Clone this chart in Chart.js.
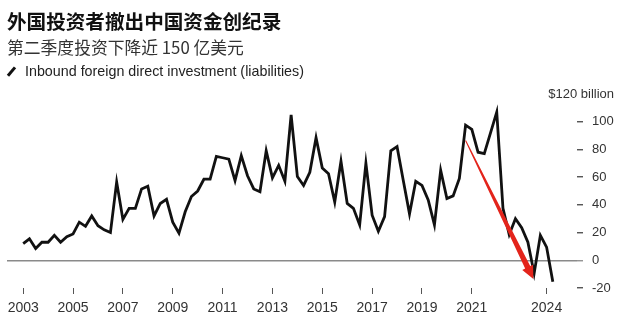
<!DOCTYPE html>
<html>
<head>
<meta charset="utf-8">
<script src="https://cdn.jsdelivr.net/npm/chart.js@4"></script>
<style>
  html, body { margin: 0; padding: 0; background: #fff; }
  #wrap { position: relative; width: 619px; height: 324px; overflow: hidden; }
  #chart { position: absolute; left: 0; top: 0; }
  .hd { position: absolute; left: 7px; white-space: nowrap; }
  #title { top: 11px; font: bold 19.6px/20px "Noto Sans CJK SC", sans-serif; color: #111; }
  #sub { top: 39px; font: 16.8px/17px "Noto Sans CJK SC", sans-serif; color: #333; }
  #legend { top: 64px; left: 25px; font: 14.3px/14px "Liberation Sans", Arial, sans-serif; color: #222; }
  #swatch { position: absolute; left: 9.5px; top: 65.5px; width: 2.8px; height: 11px; background: #111; transform: rotate(40deg); }
</style>
</head>
<body>
<div id="wrap">
  <canvas id="chart" width="619" height="324"></canvas>
  <div class="hd" id="title">外国投资者撤出中国资金创纪录</div>
  <div class="hd" id="sub">第二季度投资下降近 150 亿美元</div>
  <div id="swatch"></div>
  <div class="hd" id="legend">Inbound foreign direct investment (liabilities)</div>
</div>
<script>
// quarterly, 2003 Q1 .. 2024 Q2, $ billion
const startYear = 2003;
const fdi = [
    12, 15.5, 8.5, 13, 13, 18, 13, 17, 19, 27.5, 24.5, 32,
    25, 22, 20, 56.5, 29.5, 37.5, 37.5, 51.5, 53.5, 32, 41, 44,
    27.5, 19.5, 35, 46, 50, 58.5, 58.5, 75, 74, 73, 57.5, 75.5,
    61, 51.5, 49.5, 79, 59.5, 68.5, 57, 105, 60.5, 54, 63.5, 88.5,
    66.5, 62.5, 42, 71.5, 41, 37.5, 25.5, 70, 32.5, 21, 31.5, 79,
    82, 57.5, 33.5, 57, 54, 43.5, 25.5, 65, 44.5, 46.5, 59, 97.5,
    94.5, 78, 77, 92, 107, 37.5, 18.5, 30, 23.5, 13, -9.5, 18,
    9.5, -15.5
];
const tickYears = [2003, 2005, 2007, 2009, 2011, 2013, 2015, 2017, 2019, 2021, 2024];
const yTicks = [-20, 0, 20, 40, 60, 80, 100, 120];

const points = fdi.map(function(v, i) {
    return { x: startYear + i / 4, y: v };
});

// red annotation arrow, drawn in data space
const redArrow = {
    id: "redArrow",
    afterDatasetsDraw(chart) {
        const ctx = chart.ctx;
        const x = chart.scales.x, y = chart.scales.y;
        const x0 = x.getPixelForValue(2020.75), y0 = y.getPixelForValue(86.5);
        const x1 = x.getPixelForValue(2023.47), y1 = y.getPixelForValue(-13.5);
        const len = Math.hypot(x1 - x0, y1 - y0);
        const head = 13;
        ctx.save();
        ctx.translate(x0, y0);
        ctx.rotate(Math.atan2(y1 - y0, x1 - x0));
        ctx.fillStyle = "#e3241b";
        ctx.beginPath();
        ctx.moveTo(0, -0.5);
        ctx.lineTo(len - head, -2.8);
        ctx.lineTo(len - head, -6);
        ctx.lineTo(len, 0);
        ctx.lineTo(len - head, 6);
        ctx.lineTo(len - head, 2.8);
        ctx.lineTo(0, 0.5);
        ctx.closePath();
        ctx.fill();
        ctx.restore();
    }
};

const unitLabel = {
    id: "unitLabel",
    afterDraw(chart) {
        const ctx = chart.ctx;
        ctx.save();
        ctx.font = '13px "Liberation Sans", Arial, sans-serif';
        ctx.fillStyle = "#333";
        ctx.textAlign = "right";
        ctx.textBaseline = "middle";
        ctx.fillText("$120 billion", 614, chart.scales.y.getPixelForValue(120));
        ctx.restore();
    }
};

new Chart(document.getElementById("chart"), {
    type: "line",
    data: {
        datasets: [{
            label: "Inbound foreign direct investment (liabilities)",
            data: points,
            borderColor: "#111",
            borderWidth: 2.8,
            pointRadius: 0,
            tension: 0,
            fill: false
        }]
    },
    options: {
        responsive: false,
        animation: false,
        layout: { padding: { top: 94, left: 7, right: 0, bottom: 0 } },
        plugins: { legend: { display: false }, tooltip: { enabled: false } },
        scales: {
            x: {
                type: "linear",
                min: 2002.35,
                max: 2025.22,
                afterBuildTicks: function(s) {
                    s.ticks = tickYears.map(function(v) { return { value: v }; });
                },
                afterFit: function(s) { s.height = 36; },
                ticks: {
                    callback: function(v) { return String(v); },
                    autoSkip: false,
                    maxRotation: 0,
                    padding: 6,
                    color: "#333",
                    font: { family: "'Liberation Sans', Arial, sans-serif", size: 14 }
                },
                grid: { drawOnChartArea: false, tickLength: 6, tickColor: "#555", tickWidth: 1 },
                border: { display: false }
            },
            y: {
                position: "right",
                min: -20,
                max: 120,
                afterBuildTicks: function(s) {
                    s.ticks = yTicks.map(function(v) { return { value: v }; });
                },
                afterFit: function(s) { s.width = 42; },
                ticks: {
                    callback: function(v) { return v === 120 ? "" : String(v); },
                    padding: 9,
                    color: "#333",
                    font: { family: "'Liberation Sans', Arial, sans-serif", size: 13 }
                },
                grid: {
                    color: function(c) { return c.tick && c.tick.value === 0 ? "#8a8a8a" : "transparent"; },
                    lineWidth: 1.5,
                    tickLength: 6,
                    tickWidth: 1.3,
                    tickColor: function(c) {
                        if (!c.tick) return "#444";
                        if (c.tick.value === 120) return "transparent";
                        return c.tick.value === 0 ? "#8a8a8a" : "#444";
                    }
                },
                border: { display: false }
            }
        }
    },
    plugins: [redArrow, unitLabel]
});
</script>
</body>
</html>
